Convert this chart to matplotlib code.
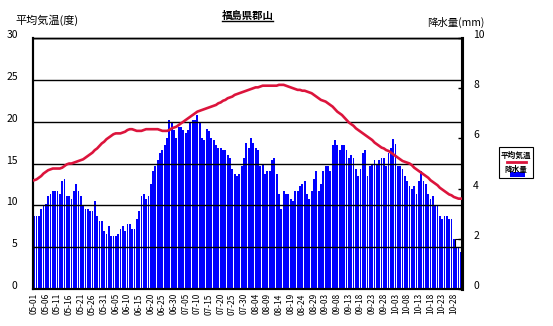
import numpy as np
import matplotlib
matplotlib.use('Agg')
import matplotlib.pyplot as plt
from matplotlib.lines import Line2D
from matplotlib.patches import Rectangle

plt.rcParams['font.family'] = ['Noto Sans CJK JP', 'DejaVu Sans']

# daily mean temperature (deg C), 05-01 .. 10-31
temp = [
    13.0, 13.1, 13.3, 13.5, 13.8, 14.0, 14.2, 14.3, 14.4, 14.4,
    14.4, 14.4, 14.5, 14.7, 14.9, 15.0, 15.0, 15.1, 15.2, 15.3,
    15.4, 15.5, 15.7, 15.9, 16.1, 16.3, 16.6, 16.8, 17.1, 17.4,
    17.6, 17.9, 18.1, 18.3, 18.5, 18.6, 18.6, 18.6, 18.7, 18.8,
    19.0, 19.1, 19.1, 19.0, 18.9, 18.9, 18.9, 19.0, 19.1, 19.1,
    19.1, 19.1, 19.1, 19.1, 19.0, 18.9, 18.9, 18.9, 19.0, 19.2,
    19.3, 19.4, 19.6, 19.8, 20.0, 20.2, 20.4, 20.6, 20.8, 21.0,
    21.2, 21.3, 21.4, 21.5, 21.6, 21.7, 21.8, 21.9, 22.0, 22.2,
    22.3, 22.5, 22.6, 22.8, 22.9, 23.0, 23.2, 23.3, 23.4, 23.5,
    23.6, 23.7, 23.8, 23.9, 24.0, 24.1, 24.1, 24.2, 24.3, 24.3,
    24.3, 24.3, 24.3, 24.3, 24.3, 24.4, 24.4, 24.4, 24.3, 24.2,
    24.1, 24.0, 23.9, 23.8, 23.8, 23.7, 23.7, 23.6, 23.5, 23.4,
    23.2, 23.0, 22.8, 22.6, 22.5, 22.4, 22.2, 22.0, 21.8, 21.5,
    21.2, 21.0, 20.8, 20.5, 20.2, 19.9, 19.7, 19.5, 19.2, 19.0,
    18.8, 18.6, 18.4, 18.2, 18.0, 17.8, 17.5, 17.3, 17.1, 16.9,
    16.8, 16.6, 16.5, 16.3, 16.1, 15.9, 15.7, 15.5, 15.3, 15.2,
    15.1, 15.0, 14.8, 14.5, 14.3, 14.1, 13.9, 13.7, 13.5, 13.3,
    13.0, 12.8, 12.6, 12.4, 12.1, 11.9, 11.7, 11.5, 11.3, 11.2,
    11.0, 10.9, 10.8, 10.8,
]

# daily precipitation (mm)
precip = [
    2.92, 2.92, 2.92, 3.20, 3.32, 3.40, 3.72, 3.80, 3.92, 3.92,
    3.92, 3.80, 4.32, 4.40, 3.72, 3.72, 3.60, 3.92, 4.20, 3.92,
    3.72, 3.32, 3.20, 3.20, 3.12, 3.12, 3.52, 2.92, 2.72, 2.72,
    2.32, 2.20, 2.52, 2.12, 2.12, 2.12, 2.20, 2.40, 2.52, 2.32,
    2.60, 2.60, 2.40, 2.40, 2.80, 3.12, 3.72, 3.80, 3.60, 3.72,
    4.20, 4.72, 4.92, 5.12, 5.40, 5.52, 5.72, 6.00, 6.72, 6.65,
    6.32, 6.00, 6.44, 6.44, 6.32, 6.20, 6.32, 6.65, 6.72, 6.72,
    6.95, 6.60, 6.00, 5.92, 6.38, 6.28, 6.00, 5.92, 5.72, 5.60,
    5.60, 5.52, 5.52, 5.32, 5.20, 4.80, 4.60, 4.52, 4.60, 4.92,
    5.20, 5.80, 5.60, 6.00, 5.80, 5.60, 5.52, 4.92, 5.00, 4.60,
    4.72, 4.72, 5.12, 5.20, 4.60, 3.80, 3.20, 3.92, 3.80, 3.80,
    3.60, 3.52, 3.92, 3.92, 4.12, 4.20, 4.32, 3.80, 3.60, 3.92,
    4.40, 4.72, 3.92, 4.20, 4.72, 4.92, 4.92, 4.72, 5.72, 5.92,
    5.72, 5.52, 5.72, 5.72, 5.52, 5.20, 5.32, 5.20, 4.80, 4.52,
    4.80, 5.40, 5.52, 4.52, 4.92, 5.00, 5.12, 5.00, 5.12, 5.20,
    5.20, 4.92, 5.40, 5.60, 5.96, 5.76, 4.92, 4.92, 4.80, 4.52,
    4.32, 4.12, 4.00, 4.12, 3.80, 4.32, 4.72, 4.32, 4.20, 3.80,
    3.60, 3.72, 3.32, 3.32, 2.92, 2.80, 2.92, 2.92, 2.80, 2.80,
    2.00, 1.68, 1.68, 1.48,
]

# open box drawn over the last three days
tail_days = 3
tail_mm = 2.0

date_labels = [
    '05-01', '05-06', '05-11', '05-16', '05-21', '05-26', '05-31',
    '06-05', '06-10', '06-15', '06-20', '06-25', '06-30',
    '07-05', '07-10', '07-15', '07-20', '07-25', '07-30',
    '08-04', '08-09', '08-14', '08-19', '08-24', '08-29',
    '09-03', '09-08', '09-13', '09-18', '09-23', '09-28',
    '10-03', '10-08', '10-13', '10-18', '10-23', '10-28',
]

days = np.arange(len(precip))

fig = plt.figure(figsize=(5.53, 3.26), dpi=100)
ax_p = fig.add_axes([33 / 553, 37 / 326, 429 / 553, 251 / 326])
ax_t = ax_p.twinx()

# precipitation bars on the right-hand scale
tail_x = days[-tail_days:].mean()
ax_p.bar(tail_x, tail_mm, width=tail_days, facecolor='white',
         edgecolor='black', linewidth=0.8, zorder=1)
ax_p.bar(days, precip, width=0.78, color='#0000ff', linewidth=0, zorder=2)
ax_p.set_xlim(-0.5, len(days) - 0.5)
ax_p.set_ylim(0, 10)
ax_p.set_yticks(np.arange(0, 11, 2))
ax_p.yaxis.tick_right()
ax_p.tick_params(axis='y', direction='in', length=3, width=1, pad=8,
                 labelsize=7.5, left=False, labelleft=False,
                 right=True, labelright=True)
for lab in ax_p.get_yticklabels():
    lab.set_verticalalignment('baseline')
ax_p.set_xticks(days[::5])
ax_p.set_xticklabels(date_labels, rotation=90, fontsize=6)
ax_p.tick_params(axis='x', length=0, pad=3)

# temperature line and grid on the left-hand scale
ax_t.set_ylim(0, 30)
ax_t.set_yticks(np.arange(0, 31, 5))
ax_t.yaxis.tick_left()
ax_t.tick_params(axis='y', length=0, pad=11, labelsize=7.5,
                 right=False, labelright=False, left=True, labelleft=True)
for lab in ax_t.get_yticklabels():
    lab.set_verticalalignment('baseline')
ax_t.grid(axis='y', color='black', linewidth=1)
ax_t.set_axisbelow(True)
ax_t.plot(days, temp, color='#dc143c', linewidth=1.9, zorder=3)

for a in (ax_p, ax_t):
    for s in a.spines.values():
        s.set_color('black')
    a.spines['left'].set_linewidth(1.5)
    a.spines['bottom'].set_linewidth(1.5)
    a.spines['top'].set_linewidth(1.0)
    a.spines['right'].set_linewidth(2.2)

fig.text(15 / 553, 1 - 20 / 326, '平均気温(度)', fontsize=8,
         ha='left', va='center')
fig.text(427 / 553, 1 - 22 / 326, '降水量(mm)', fontsize=7.5,
         ha='left', va='center')
fig.text(247.5 / 553, 1 - 16 / 326, '福島県郡山', fontsize=7.5,
         fontweight='bold', ha='center', va='center')
fig.add_artist(Line2D([222 / 553, 273 / 553], [1 - 21 / 326, 1 - 21 / 326],
                      color='black', linewidth=1))

# legend box
fig.add_artist(Rectangle((499 / 553, 1 - 178 / 326), 34 / 553, 31 / 326,
                         facecolor='white', edgecolor='black', linewidth=0.8))
fig.text(516 / 553, 1 - 155 / 326, '平均気温', fontsize=5.5,
         fontweight='bold', ha='center', va='center')
fig.add_artist(Line2D([507 / 553, 526 / 553], [1 - 161.5 / 326, 1 - 161.5 / 326],
                      color='#dc143c', linewidth=2))
fig.text(516 / 553, 1 - 169 / 326, '降水量', fontsize=5.5,
         fontweight='bold', ha='center', va='center')
fig.add_artist(Rectangle((510 / 553, 1 - 177 / 326), 15 / 553, 5 / 326,
                         facecolor='#0000ff', edgecolor='none'))

fig.savefig('out.png', dpi=100)
